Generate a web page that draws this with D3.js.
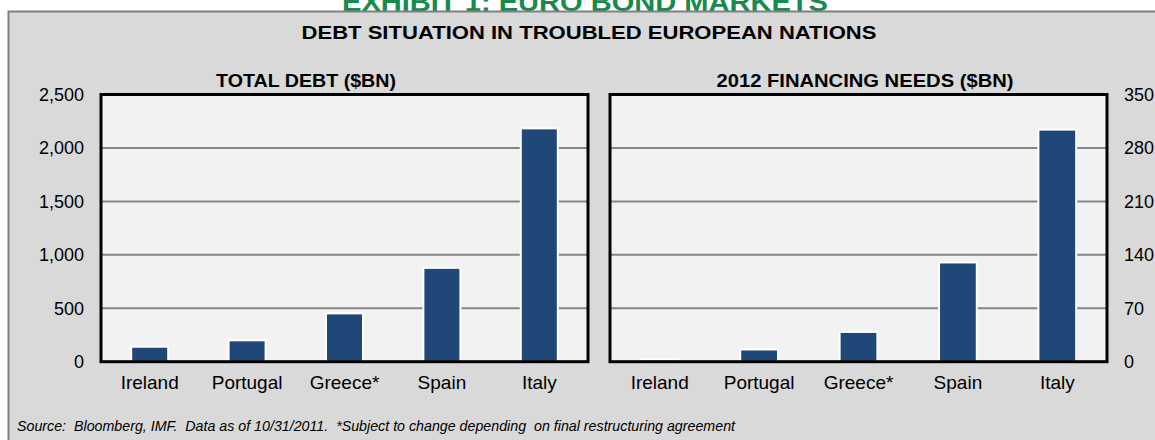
<!DOCTYPE html>
<html>
<head>
<meta charset="utf-8">
<script src="https://cdn.jsdelivr.net/npm/d3@7"></script>
<style>
  body { margin: 0; background: #ffffff; }
  svg { display: block; font-family: "Liberation Sans", Arial, sans-serif; }
</style>
</head>
<body>
<div id="chart"></div>
<script>
// Data
var countries = ["Ireland", "Portugal", "Greece*", "Spain", "Italy"];
var totalDebt = [140, 200, 452, 878, 2183];
var financingNeeds = [3, 16, 39, 130, 304];
var debtTicks = [0, 500, 1000, 1500, 2000, 2500];
var needsTicks = [0, 70, 140, 210, 280, 350];

var width = 1155;
var height = 440;

var plotTop = 94.5;
var plotBottom = 361.7;

var svg = d3.select("#chart")
  .append("svg")
  .attr("width", width)
  .attr("height", height);

// Exhibit title (cut off at the top, as in the original)
svg.append("text")
  .attr("x", 585)
  .attr("y", 10.5)
  .attr("text-anchor", "middle")
  .attr("textLength", 486)
  .attr("lengthAdjust", "spacingAndGlyphs")
  .style("font-weight", 700)
  .style("font-size", "26px")
  .style("fill", "#178a4c")
  .text("EXHIBIT 1: EURO BOND MARKETS");

// Gray panel
svg.append("rect")
  .attr("x", 8.5)
  .attr("y", 11.5)
  .attr("width", 1200)
  .attr("height", 460)
  .style("fill", "#d9d9d9")
  .style("stroke", "#808080")
  .style("stroke-width", 2);

svg.append("text")
  .attr("x", 589)
  .attr("y", 39)
  .attr("text-anchor", "middle")
  .attr("textLength", 575)
  .attr("lengthAdjust", "spacingAndGlyphs")
  .style("font-weight", 700)
  .style("font-size", "19px")
  .style("fill", "#000")
  .text("DEBT SITUATION IN TROUBLED EUROPEAN NATIONS");

var panels = [
  { title: "TOTAL DEBT ($BN)", titleX: 306, titleW: 180, x0: 101, x1: 588, values: totalDebt, ticks: debtTicks, side: "left" },
  { title: "2012 FINANCING NEEDS ($BN)", titleX: 865, titleW: 297, x0: 610, x1: 1107, values: financingNeeds, ticks: needsTicks, side: "right" }
];

panels.forEach(function (p) {
  var x = d3.scaleBand()
    .domain(countries)
    .range([p.x0, p.x1])
    .paddingInner(0.62)
    .paddingOuter(0.31);

  var y = d3.scaleLinear()
    .domain([0, d3.max(p.ticks)])
    .range([plotBottom, plotTop]);

  // chart title
  svg.append("text")
    .attr("x", p.titleX)
    .attr("y", 87)
    .attr("text-anchor", "middle")
    .attr("textLength", p.titleW)
    .attr("lengthAdjust", "spacingAndGlyphs")
    .style("font-weight", 700)
    .style("font-size", "18px")
    .text(p.title);

  // plot background
  svg.append("rect")
    .attr("x", p.x0)
    .attr("y", plotTop)
    .attr("width", p.x1 - p.x0)
    .attr("height", plotBottom - plotTop)
    .style("fill", "#f2f2f2");

  // gridlines
  svg.append("g")
    .selectAll("line")
    .data(p.ticks.slice(1, -1))
    .join("line")
    .attr("x1", p.x0)
    .attr("x2", p.x1)
    .attr("y1", d => y(d))
    .attr("y2", d => y(d))
    .style("stroke", "#868686")
    .style("stroke-width", 2);

  // bars
  svg.append("g")
    .selectAll("rect")
    .data(p.values)
    .join("rect")
    .attr("x", (d, i) => x(countries[i]))
    .attr("width", x.bandwidth())
    .attr("y", d => y(d))
    .attr("height", d => plotBottom - y(d))
    .style("fill", "#1f4778")
    .style("stroke", "#ffffff")
    .style("stroke-width", 2);

  // frame
  svg.append("rect")
    .attr("x", p.x0)
    .attr("y", plotTop)
    .attr("width", p.x1 - p.x0)
    .attr("height", plotBottom - plotTop)
    .style("fill", "none")
    .style("stroke", "#000")
    .style("stroke-width", 3);

  // value axis
  var axis = (p.side == "left" ? d3.axisLeft(y) : d3.axisRight(y))
    .tickValues(p.ticks)
    .tickFormat(p.side == "left" ? d3.format(",") : d3.format("d"))
    .tickSize(0)
    .tickPadding(17);

  var gAxis = svg.append("g")
    .attr("transform", "translate(" + (p.side == "left" ? p.x0 : p.x1) + ",0)")
    .style("font-family", "'Liberation Sans', Arial, sans-serif")
    .style("font-size", "18px")
    .style("color", "#000")
    .call(axis);
  gAxis.select(".domain").remove();

  // category axis
  var gCat = svg.append("g")
    .attr("transform", "translate(0," + plotBottom + ")")
    .style("font-family", "'Liberation Sans', Arial, sans-serif")
    .style("font-size", "19px")
    .style("color", "#000")
    .call(d3.axisBottom(x).tickSize(0).tickPadding(14));
  gCat.select(".domain").remove();
});

// Source note
svg.append("text")
  .attr("x", 17)
  .attr("y", 431)
  .attr("textLength", 718)
  .attr("lengthAdjust", "spacingAndGlyphs")
  .style("font-style", "italic")
  .style("font-size", "14px")
  .style("white-space", "pre")
  .text("Source:  Bloomberg, IMF.  Data as of 10/31/2011.  *Subject to change depending  on final restructuring agreement");
</script>
</body>
</html>
